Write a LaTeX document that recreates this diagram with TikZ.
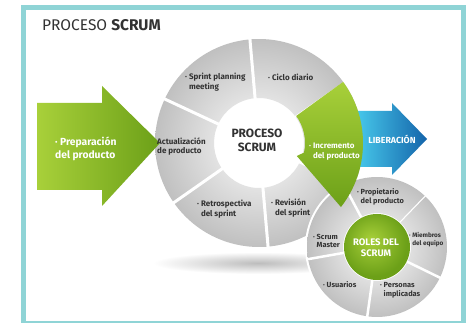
\documentclass[tikz,border=0pt]{standalone}
\usepackage{fontspec}
\setmainfont{Fira Sans}
\definecolor{frameteal}{RGB}{143,212,214}
\definecolor{txtgray}{RGB}{50,50,50}
\definecolor{lgreen}{RGB}{168,208,58}
\definecolor{dgreen}{RGB}{108,160,24}
\definecolor{lblue}{RGB}{72,202,236}
\definecolor{dblue}{RGB}{20,100,170}
\definecolor{segl}{RGB}{226,226,226}
\definecolor{segd}{RGB}{192,192,192}
\pgfdeclareradialshading{ringshade}{\pgfpoint{0bp}{0bp}}{color(0bp)=(white); color(11bp)=(segl); color(25bp)=(segd); color(50bp)=(segd)}
\pgfdeclareradialshading{ballshade}{\pgfpoint{-5bp}{6bp}}{color(0bp)=(lgreen); color(25bp)=(dgreen); color(50bp)=(dgreen)}

\begin{document}
\begin{tikzpicture}
  [x=1pt,y=1pt,
   seg/.style={font=\fontsize{8}{9.8}\selectfont\bfseries,text=txtgray,align=left,anchor=west,inner sep=0pt},
   roleseg/.style={seg,font=\fontsize{7.4}{8.6}\selectfont\bfseries},
   wtxt/.style={seg,text=white},
   bigtxt/.style={font=\fontsize{12}{14}\selectfont\bfseries,align=center,inner sep=0pt}]

  \clip (0,0) rectangle (471,323);
  \fill[white] (0,0) rectangle (471,323);
  \fill[frameteal] (21,0) rectangle (466,318);
  \fill[white] (26,2) rectangle (461,313);

  \node[anchor=west,inner sep=0pt,text=txtgray,font=\fontsize{15.5}{17}\selectfont] (title) at (42,298) {PROCESO \textbf{SCRUM}};

  \coordinate (c1) at (259,180);
  \coordinate (c2) at (377,76);

  \shade[inner color=black!26,outer color=white] (258,60) ellipse [x radius=105,y radius=11];

  \foreach \a in {35,95,155,215,275,335}{
    \begin{scope}
      \clip (c1) ++(\a:104) arc[start angle=\a,delta angle=60,radius=104] -- ++(\a+60:-59) arc[start angle=\a+60,delta angle=-60,radius=45] -- cycle;
      \shade[shading=ringshade] (c1) circle[radius=104];
    \end{scope}
    \draw[white,line width=3] ([shift={(\a:43)}]c1) -- ([shift={(\a:106)}]c1);
  }

  \shade[left color=lblue,right color=dblue] (355,212) -- (392,212) -- (392,220) -- (427,184) -- (392,148) -- (392,156) -- (355,156) -- cycle;

  \fill[white] (c2) circle[radius=72];
  \foreach \a in {46,118,190,262,334}{
    \begin{scope}
      \clip (c2) ++(\a:70) arc[start angle=\a,delta angle=72,radius=70] -- ++(\a+72:-36) arc[start angle=\a+72,delta angle=-72,radius=34] -- cycle;
      \shade[shading=ringshade] (c2) circle[radius=70];
    \end{scope}
    \draw[white,line width=2.5] ([shift={(\a:32)}]c2) -- ([shift={(\a:72)}]c2);
  }
  \shade[shading=ballshade] (c2) circle[radius=33];

  \shade[top color=lgreen,bottom color=dgreen] ([shift={(36:46)}]c1) -- ([shift={(36:104)}]c1) arc[start angle=36,end angle=-38,radius=104] -- ([shift={(-19:40)}]c1) -- ([shift={(-12:46)}]c1) arc[start angle=-12,end angle=36,radius=46] -- cycle;

  \shade[left color=lgreen,right color=dgreen] (37,220) -- (102,220) -- (102,237) -- (160,180) -- (102,117) -- (102,133) -- (37,133) -- cycle;

  \node[bigtxt,text=txtgray] (proc) at (257,183) {PROCESO\\SCRUM};
  \node[seg] (plan) at (185,240.5) {· Sprint planning\\\hphantom{· }meeting};
  \node[seg] (ciclo) at (268,246) {· Ciclo diario};
  \node[seg] (act) at (157,176.5) {Actualización\\de producto};
  \node[seg] (retro) at (197,113.5) {· Retrospectiva\\\hphantom{· }del sprint};
  \node[seg] (rev) at (271,115) {· Revisión\\\hphantom{· }del sprint};
  \node[wtxt] (inc) at (309,171.5) {· Incremento\\\hphantom{· }del producto};
  \node[wtxt,font=\fontsize{10.3}{12.5}\selectfont\bfseries] (prep) at (55,174) {· Preparación\\del producto};
  \node[wtxt,anchor=center,font=\fontsize{8.8}{10}\selectfont\bfseries] (lib) at (392,184) {LIBERACIÓN};

  \node[bigtxt,text=white,font=\fontsize{9.5}{11}\selectfont\bfseries] (roles) at (376,75) {ROLES DEL\\SCRUM};
  \node[roleseg] (prop) at (357,126) {· Propietario\\\hphantom{· }del producto};
  \node[roleseg,font=\fontsize{6.4}{7.8}\selectfont\bfseries] (miem) at (409,83) {· Miembros\\\hphantom{· }del equipo};
  \node[roleseg] (pers) at (380,32.5) {· Personas\\\hphantom{· }implicadas};
  \node[roleseg] (usu) at (323,38) {· Usuarios};
  \node[roleseg] (sm) at (313,82) {· Scrum\\\hphantom{· }Master};
\end{tikzpicture}
\end{document}
